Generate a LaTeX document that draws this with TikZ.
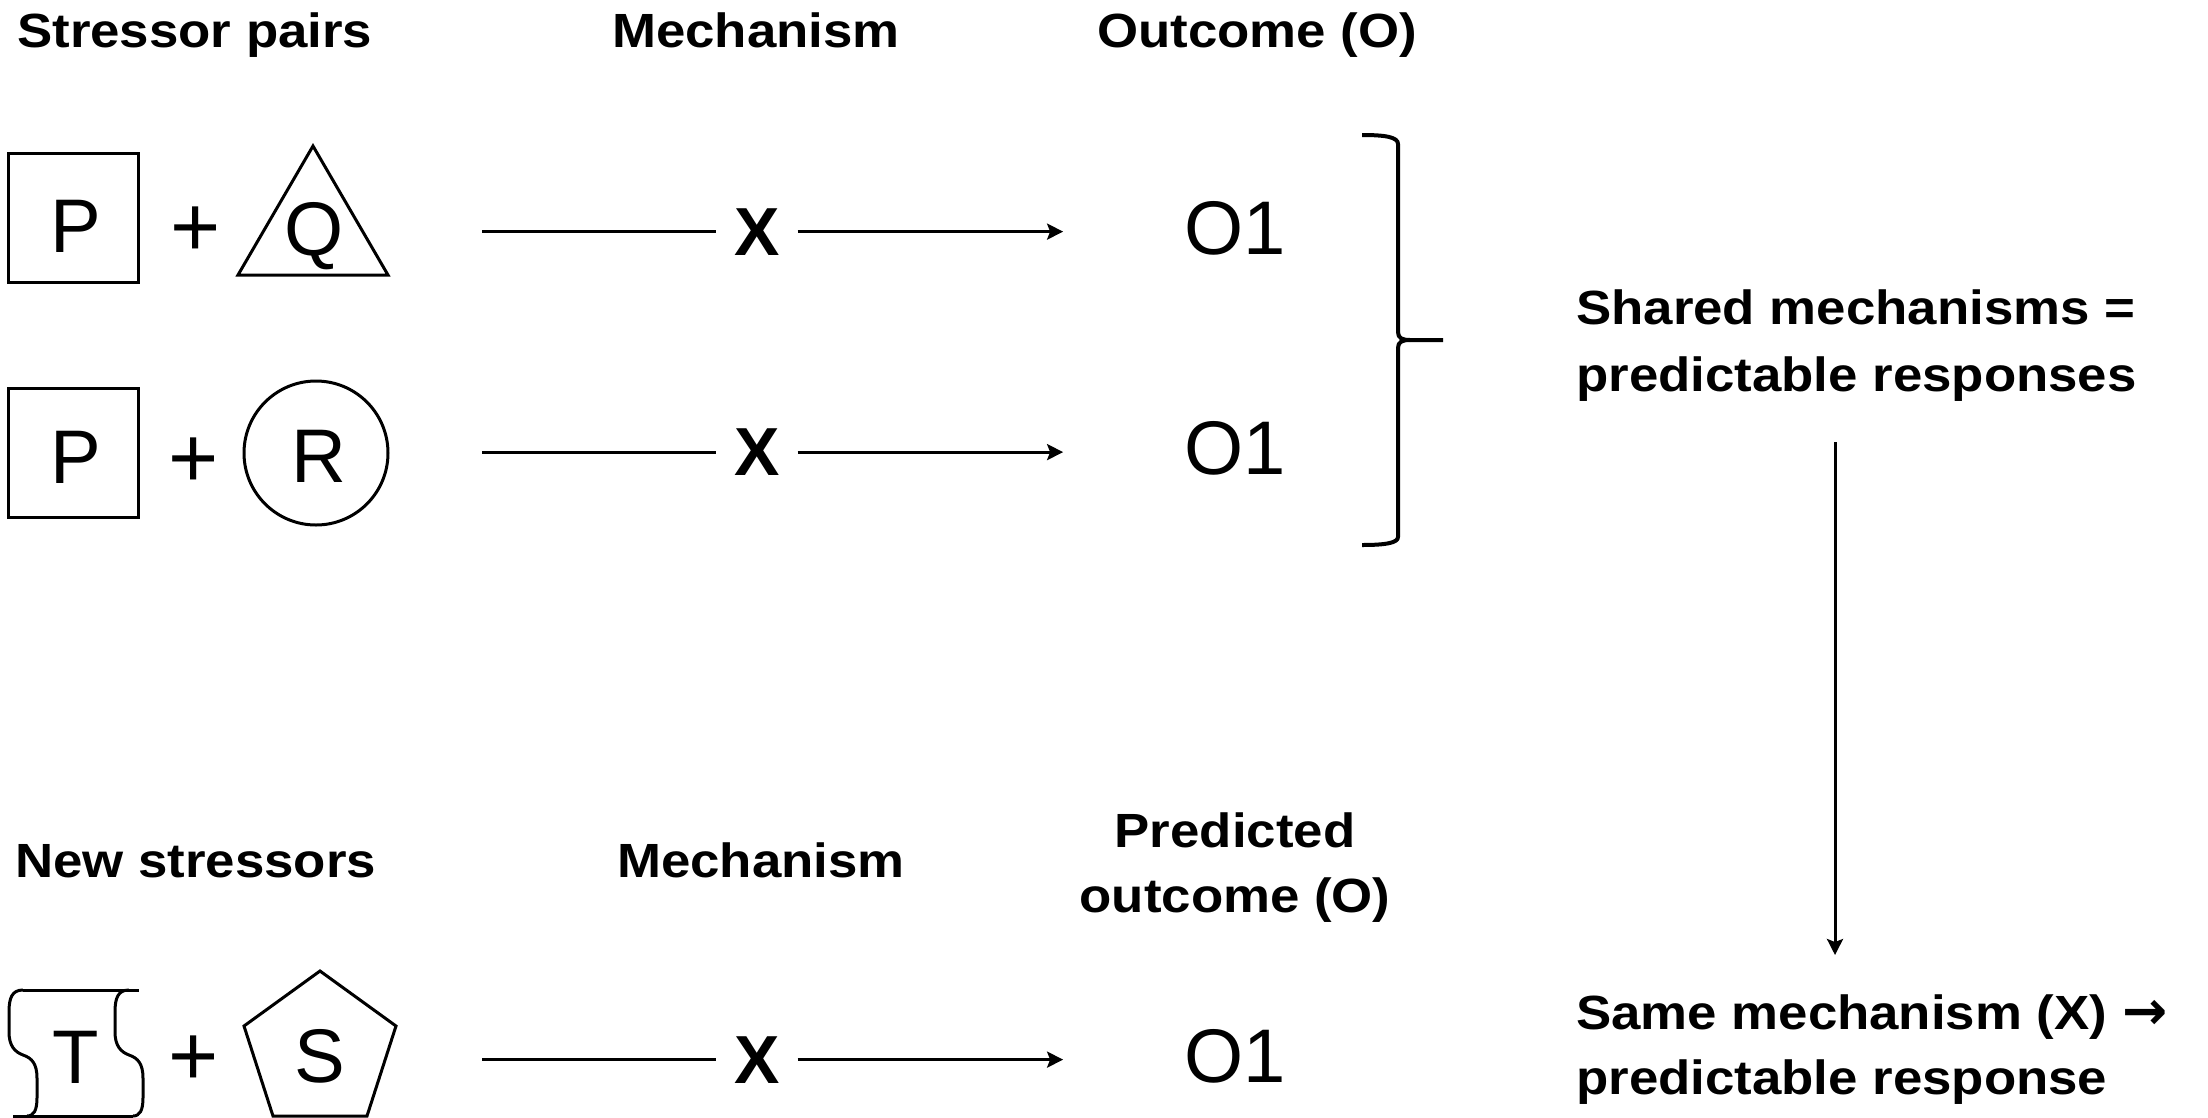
\documentclass[tikz,border=0pt]{standalone}
\usepackage{fontspec}
\setmainfont{Liberation Sans}
\newfontfamily\hfont{Liberation Sans}[FakeStretch=1.1]
\newfontfamily\symfont{DejaVu Sans}
\usetikzlibrary{arrows.meta}
\begin{document}
\begin{tikzpicture}[x=1pt,y=-1pt,
  shp/.style={draw=black,line width=3pt,line join=miter},
  con/.style={line width=3pt},
  arr/.style={line width=3pt,-{Stealth[length=16pt,width=16pt,inset=3pt]}},
  brc/.style={line width=4pt,line join=round},
  head/.style={inner sep=0pt,font=\hfont\bfseries\fontsize{48}{67}\selectfont},
  big/.style={inner sep=0pt,font=\fontsize{76}{80}\selectfont},
  plus/.style={inner sep=0pt,font=\fontsize{86}{90}\selectfont},
  mech/.style={inner sep=0pt,outer xsep=18pt,font=\bfseries\fontsize{68}{72}\selectfont},
]
\useasboundingbox (0,0) rectangle (2208,1117);

% headings
\node[head,anchor=base west] (h1) at (17,47) {Stressor pairs};
\node[head,anchor=base] (h2) at (756,47) {Mechanism};
\node[head,anchor=base] (h3) at (1257,47) {Outcome (O)};
\node[head,anchor=base west] (h4) at (15,877) {New stressors};
\node[head,anchor=base] (h5) at (761,877) {Mechanism};
\node[head,anchor=base] (h6a) at (1235,847) {Predicted};
\node[head,anchor=base] (h6b) at (1235,912) {outcome (O)};
\node[head,anchor=base west] (sh1) at (1576,324) {Shared mechanisms =};
\node[head,anchor=base west] (sh2) at (1576,391) {predictable responses};
\node[head,anchor=base west] (sm1) at (1576,1029) {Same mechanism (X) {\symfont\bfseries\fontsize{54}{60}\selectfont →}};
\node[head,anchor=base west] (sm2) at (1576,1094) {predictable response};

% row 1
\draw[shp] (8,153) rectangle (138,282);
\node[big,anchor=base] (P1) at (76,252) {P};
\node[plus,anchor=base] (pl1) at (196,256) {+};
\draw[shp] (313,146) -- (388,275) -- (238,275) -- cycle;
\node[big,anchor=base] (Q1) at (314,255) {Q};

% row 2
\draw[shp] (8,388) rectangle (138,517);
\node[big,anchor=base] (P2) at (76,483) {P};
\node[plus,anchor=base] (pl2) at (194,487) {+};
\draw[shp] (316,453) circle[radius=72];
\node[big,anchor=base] (R2) at (319,482) {R};

% row 3
\draw[shp,line join=round] (23,990) -- (139,990);
\draw[shp,line join=round] (13,1116) -- (133,1116);
\foreach \xo in {9,115}{
  \draw[shp,line join=round] (\xo+14,990) .. controls (\xo+3,990) and (\xo,998) .. (\xo,1012)
    -- (\xo,1032) .. controls (\xo,1046) and (\xo+6,1052) .. (\xo+14,1055)
    .. controls (\xo+23,1058) and (\xo+28,1064) .. (\xo+28,1078)
    -- (\xo+28,1098) .. controls (\xo+28,1110) and (\xo+25,1116) .. (\xo+18,1116);
}
\node[big,anchor=base] (T3) at (76,1083) {T};
\node[plus,anchor=base] (pl3) at (194,1085) {+};
\draw[shp] (320,971) -- (396,1026) -- (367,1116) -- (273,1116) -- (244,1026) -- cycle;
\node[big,anchor=base] (S3) at (320,1082) {S};

% mechanisms and outcomes
\coordinate (c0) at (482,0);
\node[mech,anchor=base] (X1) at (757,255) {X};
\node[mech,anchor=base] (X2) at (757,475.5) {X};
\node[mech,anchor=base] (X3) at (757,1083) {X};
\node[big,anchor=base] (O1) at (1235,254) {O1};
\node[big,anchor=base] (O2) at (1235,474.5) {O1};
\node[big,anchor=base] (O3) at (1235,1082) {O1};

\foreach \i in {1,2,3}{
  \draw[con] (X\i.west -| c0) -- (X\i.west);
  \draw[arr,shorten >=121pt] (X\i.east) -- (X\i.east -| O\i.west);
}

% brace
\draw[brc] (1362,135) .. controls (1385,135) and (1398,137) .. (1398,144)
  -- (1398,332) .. controls (1398,338) and (1402,340) .. (1410,340) -- (1443,340);
\draw[brc] (1410,340) .. controls (1402,340) and (1398,342) .. (1398,348)
  -- (1398,537) .. controls (1398,543) and (1385,545) .. (1362,545);

% vertical arrow
\coordinate (va) at (1835,0);
\draw[arr,shorten <=41pt,shorten >=39pt] (sh2.south -| va) -- (sm1.north -| va);
\end{tikzpicture}
\end{document}
